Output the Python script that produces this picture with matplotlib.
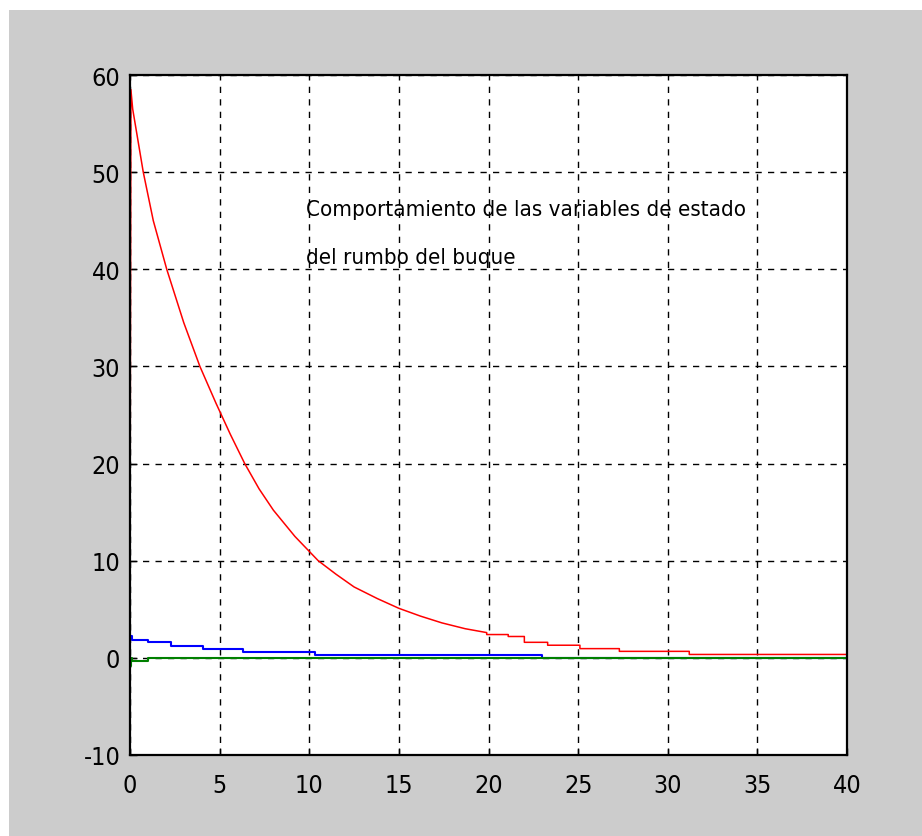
"""
Ship heading state variables (MATLAB-style plot recreation)
"""

import matplotlib.pyplot as plt
from matplotlib.patches import Rectangle

# Data
t_red = [0.0, 0.02, 0.05, 0.15, 0.74, 1.3, 2.05, 3.0, 3.9, 4.8, 5.6, 6.4, 7.2, 8.0,
         9.2, 10.5, 11.5, 12.5, 13.8, 15.0, 16.2, 17.4, 18.7, 19.9, 19.9, 21.1,
         21.1, 22.0, 22.0, 23.3, 23.3, 25.1, 25.1, 27.3, 27.3, 31.2, 31.2, 40.0]
v_red = [0.0, 30.0, 58.5, 56.5, 50.0, 45.0, 40.0, 34.5, 30.0, 26.2, 23.0, 20.0, 17.4, 15.2,
         12.5, 10.0, 8.6, 7.3, 6.1, 5.1, 4.3, 3.6, 3.0, 2.6, 2.4, 2.4,
         2.2, 2.2, 1.6, 1.6, 1.3, 1.3, 0.95, 0.95, 0.67, 0.67, 0.35, 0.35]

t_blue = [0.0, 0.1, 1.0, 2.3, 4.1, 6.3, 10.3, 23.0, 40.0]
v_blue = [2.2, 1.85, 1.6, 1.25, 0.9, 0.65, 0.3, 0.0, 0.0]

t_green = [0.0, 0.05, 0.1, 1.0, 40.0]
v_green = [-0.8, 0.0, -0.35, 0.0, 0.0]

x_ticks = [0, 5, 10, 15, 20, 25, 30, 35, 40]
y_ticks = [-10, 0, 10, 20, 30, 40, 50, 60]

note = "Comportamiento de las variables de estado\ndel rumbo del buque"

font = ['DejaVu Sans']

fig = plt.figure(figsize=(9.22, 8.37), dpi=100, facecolor='white')
fig.patches.append(Rectangle((9 / 922, 0), 1, 1 - 11 / 837, transform=fig.transFigure,
                             facecolor='#cccccc', edgecolor='none', zorder=-10))

ax = fig.add_axes([130 / 922, 81 / 837, 717 / 922, 680 / 837])
ax.set_facecolor('white')
ax.set_zorder(1)

ax.plot(t_blue, v_blue, color='#0000ff', linewidth=1.5, drawstyle='steps-post')
ax.plot(t_red, v_red, color='#ff0000', linewidth=1.1)
ax.plot(t_green, v_green, color='#008000', linewidth=1.5, drawstyle='steps-post')

ax.set_xlim(0, 40)
ax.set_ylim(-10, 60)
ax.set_xticks(x_ticks)
ax.set_yticks(y_ticks)
ax.set_xticklabels([str(v) for v in x_ticks], family=font, fontsize=18,
                   fontstretch='condensed')
ax.set_yticklabels([str(v) for v in y_ticks], family=font, fontsize=18,
                   fontstretch='condensed')
ax.tick_params(direction='in', length=5, width=1, color='black')
ax.tick_params(axis='x', pad=13)
ax.tick_params(axis='y', pad=7)
ax.grid(True, color='black', linestyle=(0, (4.5, 4.5)), linewidth=1.0)

for s in ax.spines.values():
    s.set_linewidth(1.6)
    s.set_color('black')

ax.text(9.8, 47.2, note, family=font, fontsize=16, fontstretch='condensed',
        va='top', ha='left', linespacing=2.75)

fig.savefig('out.png', dpi=100, facecolor=fig.get_facecolor())
